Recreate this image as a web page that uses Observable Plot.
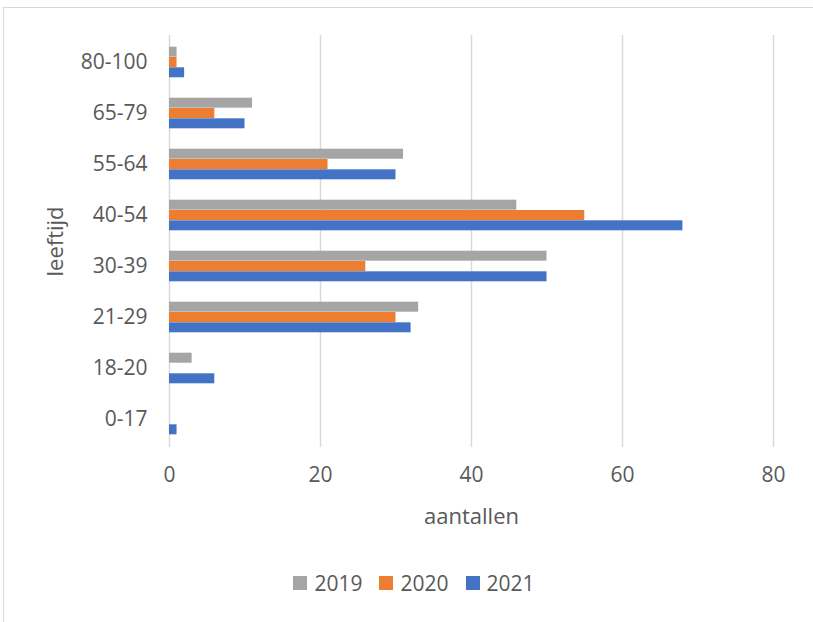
<!DOCTYPE html>
<html>
<head>
<meta charset="utf-8">
<script src="https://cdn.jsdelivr.net/npm/d3@7"></script>
<script src="https://cdn.jsdelivr.net/npm/@observablehq/plot@0.6"></script>
<style>
  html, body { margin: 0; padding: 0; background: #fff; overflow: hidden; }
  body { width: 813px; height: 622px; position: relative; font-family: "Open Sans", sans-serif; }
  #frame { position: absolute; left: 3px; top: 7px; width: 830px; height: 640px; border: 1px solid #d9d9d9; box-sizing: border-box; }
  #chart { position: absolute; left: 0; top: 0; }
  #legend { position: absolute; top: 569px; left: 0; width: 828px; display: flex; justify-content: center; gap: 17px; font-size: 21px; color: #595959; }
  #legend span.item { display: flex; align-items: center; }
  #legend span.sw { display: inline-block; width: 14px; height: 14px; margin-right: 7px; }
</style>
</head>
<body>
<div id="frame"></div>
<div id="chart"></div>
<div id="legend"></div>
<script>
const categories = ["80-100", "65-79", "55-64", "40-54", "30-39", "21-29", "18-20", "0-17"];
const years = ["2019", "2020", "2021"];
const values2019 = [1, 11, 31, 46, 50, 33, 3, 0];
const values2020 = [1, 6, 21, 55, 26, 30, 0, 0];
const values2021 = [2, 10, 30, 68, 50, 32, 6, 1];
const xTicks = [0, 20, 40, 60, 80];
const colors = {"2019": "#A5A5A5", "2020": "#ED7D31", "2021": "#4472C4"};

const series = {"2019": values2019, "2020": values2020, "2021": values2021};
const rows = years.flatMap(y => categories.map((c, i) => ({cat: c, year: y, value: series[y][i]})));

const step = (447 - 35) / categories.length;
const barH = 10.3;
const pIn = 1 - barH / step;
const offsets = {"2019": -barH, "2020": 0, "2021": barH};

const chart = Plot.plot({
  width: 813,
  height: 540,
  marginLeft: 169,
  marginRight: 40,
  marginTop: 35,
  marginBottom: 93,
  style: {fontFamily: "'Open Sans', sans-serif", fontSize: "21px", color: "#595959", background: "transparent"},
  x: {domain: [0, 80], ticks: xTicks, tickSize: 0, tickPadding: 20, label: "aantallen", labelArrow: "none", labelAnchor: "center", labelOffset: 76},
  y: {domain: categories, paddingInner: pIn, paddingOuter: pIn / 2, align: 0.5, tickSize: 0, tickPadding: 22, label: "leeftijd", labelArrow: "none", labelAnchor: "center", labelOffset: 122},
  marks: [
    Plot.ruleX(xTicks, {stroke: "#d9d9d9", strokeWidth: 1.5, strokeOpacity: 1}),
    ...years.map(yr => Plot.barX(rows.filter(d => d.year === yr), {
      x: "value", y: "cat", fill: colors[yr], dy: offsets[yr]
    }))
  ]
});
document.getElementById("chart").appendChild(chart);

chart.querySelectorAll("g[aria-label='x-axis label'] text, g[aria-label='y-axis label'] text").forEach(t => {
  t.setAttribute("font-size", "22px");
  t.textContent = t.textContent.replace(/\s*[→↑←↓]\s*/g, "");
});

const legend = document.getElementById("legend");
years.forEach(y => {
  const item = document.createElement("span");
  item.className = "item";
  const sw = document.createElement("span");
  sw.className = "sw";
  sw.style.background = colors[y];
  item.appendChild(sw);
  item.appendChild(document.createTextNode(y));
  legend.appendChild(item);
});
</script>
</body>
</html>
